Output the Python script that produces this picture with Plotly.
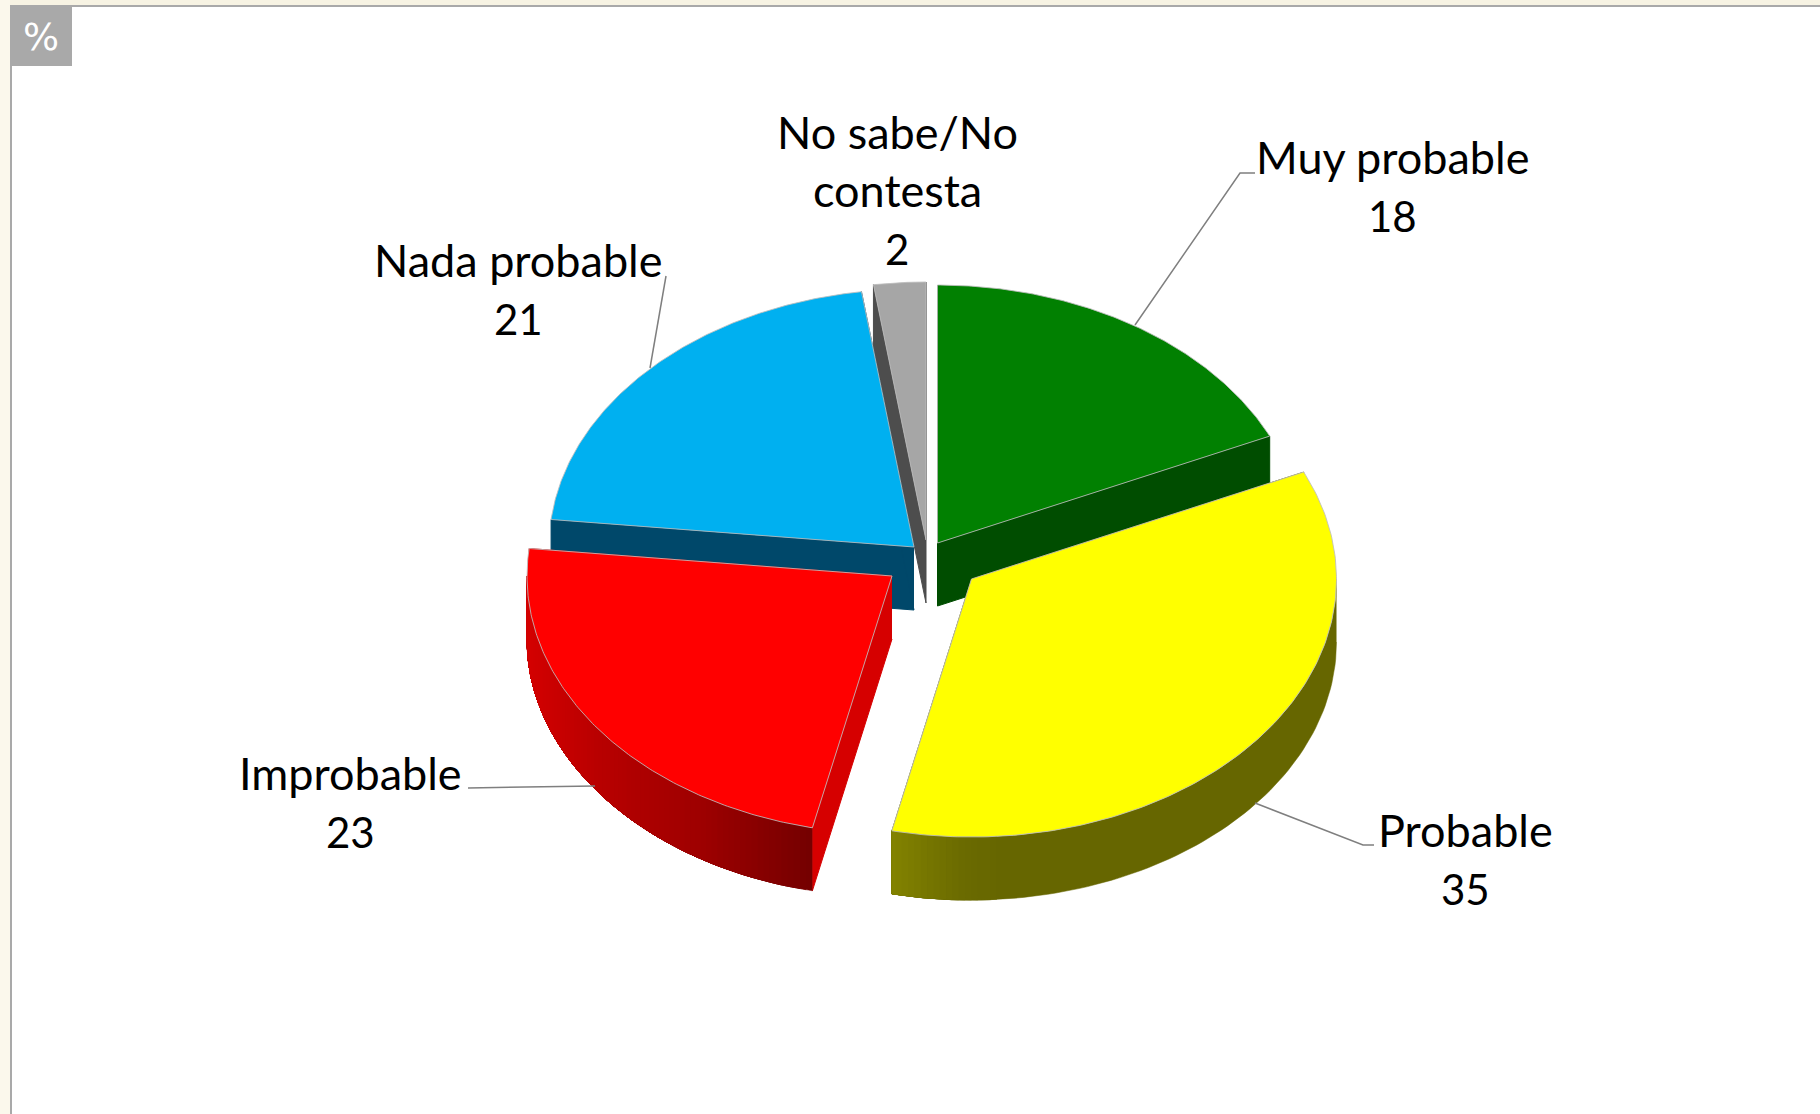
import numpy as np
import plotly.graph_objects as go

# ---- data (slices are slightly finer than their rounded labels) ----
categories = ["Muy probable", "Probable", "Improbable", "Nada probable", "No sabe/No contesta"]
values = [18.2, 35.3, 23.2, 21.0, 2.3]
label_lines = [["Muy probable"], ["Probable"], ["Improbable"], ["Nada probable"], ["No sabe/No", "contesta"]]

# ---- styling / layout (canvas pixels) ----
W, H = 1820, 1114
RX, RY, DEPTH = 365.0, 258.0, 63.0
top_colors = ["#018001", "#ffff00", "#ff0000", "#00b0f0", "#a6a6a6"]
side_colors = ["#004d00", "#666600", "#d60000", "#00486a", "#4d4d4d"]
slice_apex = [(937.5, 543), (971.5, 579), (892, 576), (914, 547), (926, 540)]
front_gradient = [
    None,
    [(893, "#828200"), (960, "#6b6b00"), (1000, "#666600"), (1340, "#666600")],
    [(527, "#d40000"), (600, "#b80000"), (700, "#9e0000"), (815, "#730000")],
    None,
    None,
]
draw_order = [4, 3, 0, 2, 1]
label_center_x = [1392, 1465, 350.5, 518, 897]
label_first_baseline = [173, 846, 789, 276, 148.2]
LINE_STEP = 58
NAME_SIZE = 45
NUM_SIZE = 42
leaders = [
    [(1135, 325), (1240, 173), (1255, 173)],
    [(1255, 803), (1363, 845), (1374, 845)],
    [(595, 786), (468, 788)],
    [(650, 368), (666, 276)],
]

edges = np.cumsum([0] + values) / sum(values) * 360.0


def rim(theta_deg, apex, z=0.0):
    t = np.radians(theta_deg)
    return apex[0] + RX * np.sin(t), apex[1] - RY * np.cos(t) + z


def hex_rgb(c):
    return np.array([int(c[i:i + 2], 16) for i in (1, 3, 5)], float)


def grad_color(stops, x):
    xs = [s[0] for s in stops]
    rgb = np.array([hex_rgb(s[1]) for s in stops])
    v = [np.interp(x, xs, rgb[:, k]) for k in range(3)]
    return "rgb(%d,%d,%d)" % tuple(int(round(a)) for a in v)


fig = go.Figure()


def poly(xs, ys, fill, line=None, lw=1.0, name=""):
    fig.add_trace(go.Scatter(
        x=list(xs), y=list(ys), mode="lines", fill="toself", fillcolor=fill,
        line=dict(color=line or fill, width=lw), hoverinfo="skip", name=name, showlegend=False))


for i in draw_order:
    a0, a1 = edges[i], edges[i + 1]
    apex = slice_apex[i]
    # radial side walls
    for a in (a0, a1):
        x, y = rim(a, apex)
        poly([apex[0], x, x, apex[0]], [apex[1], y, y + DEPTH, apex[1] + DEPTH], side_colors[i], name=categories[i])
    # outer wall, front half only: each band runs to the far end of the wall, later bands paint over it
    lo, hi = max(a0, 90.0), min(a1, 270.0)
    if lo < hi:
        steps = np.arange(lo, hi, 1.0)
        prev = None
        for s0 in steps:
            ang = np.linspace(s0, hi, 80)
            tx, ty = rim(ang, apex)
            bx, by = rim(ang[::-1], apex, DEPTH)
            mid = rim(s0 + 0.5, apex)[0]
            col = grad_color(front_gradient[i], mid) if front_gradient[i] else side_colors[i]
            if col != prev:
                poly(np.r_[tx, bx], np.r_[ty, by], col, lw=0.5, name=categories[i])
                prev = col
    # top face
    ang = np.linspace(a0, a1, 160)
    ax, ay = rim(ang, apex)
    poly(np.r_[apex[0], ax, apex[0]], np.r_[apex[1], ay, apex[1]], top_colors[i],
         line="rgba(190,190,190,0.85)", lw=1.0, name=categories[i])

for pts in leaders:
    fig.add_trace(go.Scatter(x=[p[0] for p in pts], y=[p[1] for p in pts], mode="lines",
                             line=dict(color="#7f7f7f", width=1.5), hoverinfo="skip", showlegend=False))

annotations = []
for i in range(len(categories)):
    lines = label_lines[i] + ["%.0f" % values[i]]
    for k, txt in enumerate(lines):
        size = NUM_SIZE if k == len(lines) - 1 else NAME_SIZE
        annotations.append(dict(
            x=label_center_x[i], y=label_first_baseline[i] + k * LINE_STEP - 0.36 * size, text=txt,
            xref="x", yref="y", xanchor="center", yanchor="middle", showarrow=False,
            font=dict(family="Lato", size=size, color="#000000")))
annotations.append(dict(x=41, y=37, text="%", xref="x", yref="y", xanchor="center", yanchor="middle",
                        showarrow=False, font=dict(family="DejaVu Sans", size=38, color="#ffffff")))

shapes = [
    dict(type="rect", x0=0, x1=W, y0=0, y1=5, fillcolor="#f7f3e3", line_width=0, layer="below"),
    dict(type="rect", x0=0, x1=10, y0=0, y1=H, fillcolor="#fbf8ec", line_width=0, layer="below"),
    dict(type="rect", x0=10, x1=W, y0=5, y1=7, fillcolor="#a9a9a9", line_width=0, layer="below"),
    dict(type="rect", x0=10, x1=12, y0=5, y1=H, fillcolor="#a9a9a9", line_width=0, layer="below"),
    dict(type="rect", x0=12, x1=72, y0=7, y1=66, fillcolor="#a9a9a9", line_width=0, layer="below"),
]

fig.update_layout(
    width=W, height=H, margin=dict(l=0, r=0, t=0, b=0), paper_bgcolor="#ffffff", plot_bgcolor="#ffffff",
    showlegend=False, annotations=annotations, shapes=shapes,
    xaxis=dict(range=[0, W], visible=False, fixedrange=True),
    yaxis=dict(range=[H, 0], visible=False, fixedrange=True),
)
fig.write_html("out.html", config={"displayModeBar": False},
               post_script="document.body.style.margin='0';document.documentElement.style.overflow='hidden';")
